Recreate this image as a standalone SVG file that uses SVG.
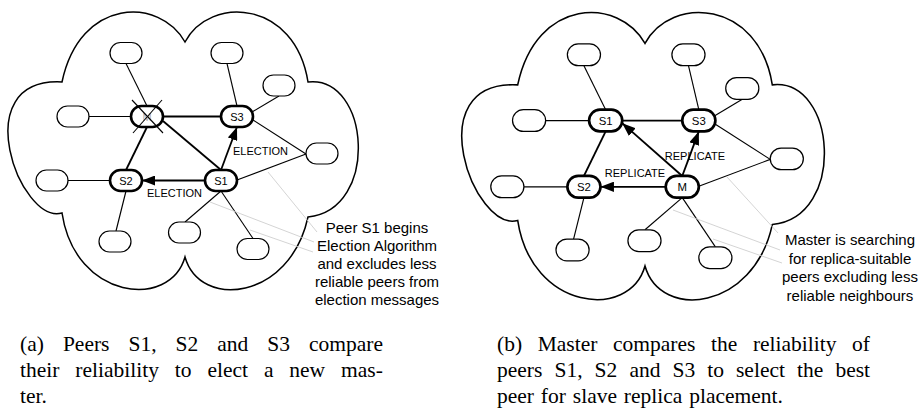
<svg xmlns="http://www.w3.org/2000/svg" width="920" height="414" viewBox="0 0 920 414">
<defs>
<style>
.cloud{fill:none;stroke:#000;stroke-width:1.5}
.nd{fill:#fff;stroke:#000;stroke-width:1.2}
.nd.k{stroke-width:2.6}
.e{stroke:#000;stroke-width:1.1;fill:none}
.m{stroke:#000;stroke-width:1.8;fill:none}
.ar{stroke:#000;stroke-width:1.8;fill:none;marker-end:url(#ah)}
.lead{stroke:#cfcfcf;stroke-width:0.9;fill:none}
.t{font-family:"Liberation Sans",Arial,sans-serif;font-size:11px;text-anchor:middle;fill:#000}
.ann{font-family:"Liberation Sans",Arial,sans-serif;font-size:15px;text-anchor:middle;fill:#000}
.cap{font-family:"Liberation Serif","Times New Roman",serif;font-size:21.5px;fill:#000}
</style>
<marker id="ah" markerWidth="13" markerHeight="10" refX="13" refY="5" orient="auto" markerUnits="userSpaceOnUse"><path d="M0,0 L13,5 L0,10 Z" fill="#000"/></marker>
<path id="cloudshape" d="M185,42 C160,-3 80,-3 62,82 C-35,77 20,225 62,213 C75,300 170,310 185,257 C200,310 290,300 308,217 C380,210 370,75 308,82 C295,0 210,-5 185,42 Z"/>
</defs>
<rect width="920" height="414" fill="#fff"/>

<!-- Panel (a) -->
<g id="panel-a">
<use href="#cloudshape" class="cloud"/>
<g id="connectors-a">
<line class="e" x1="126" y1="63.5" x2="147" y2="106"/>
<line class="e" x1="89" y1="116.5" x2="131" y2="116.5"/>
<line class="e" x1="227" y1="63.5" x2="237" y2="106"/>
<line class="e" x1="279" y1="96" x2="252" y2="112"/>
<line class="e" x1="253" y1="120" x2="306" y2="154"/>
<line class="e" x1="237" y1="180" x2="306" y2="154"/>
<line class="e" x1="68" y1="180.5" x2="110" y2="180.5"/>
<line class="e" x1="126" y1="191" x2="116" y2="231"/>
<line class="e" x1="221" y1="191" x2="185" y2="222"/>
<line class="e" x1="221" y1="191" x2="253" y2="238.5"/>
<line class="m" x1="163" y1="116.5" x2="221" y2="116.5"/>
<line class="m" x1="163" y1="121" x2="221" y2="170"/>
<line class="m" x1="147" y1="127" x2="126" y2="170"/>
<line class="ar" x1="221" y1="170" x2="237" y2="127"/>
<line class="ar" x1="205" y1="180.5" x2="142" y2="180.5"/>
<text class="t" x="260.5" y="155">ELECTION</text>
<text class="t" x="174.5" y="197">ELECTION</text>
</g>
<g id="a-tl"><rect class="nd" x="110" y="42.5" width="32" height="21" rx="10.5"/></g>
<g id="a-tr"><rect class="nd" x="211" y="42.5" width="32" height="21" rx="10.5"/></g>
<g id="a-r"><rect class="nd" x="263" y="75" width="32" height="21" rx="10.5"/></g>
<g id="a-l"><rect class="nd" x="57" y="106" width="32" height="21" rx="10.5"/></g>
<g id="a-M"><rect class="nd k" x="131" y="106" width="32" height="21" rx="10.5"/><text class="t" x="147" y="120.5" style="fill:#aaa">M</text><line class="e" x1="132" y1="100" x2="163" y2="133"/><line class="e" x1="162" y1="100" x2="133" y2="133"/></g>
<g id="a-S3"><rect class="nd k" x="221" y="106" width="32" height="21" rx="10.5"/><text class="t" x="237" y="120.5">S3</text></g>
<g id="a-fr"><rect class="nd" x="306" y="143" width="32" height="21" rx="10.5"/></g>
<g id="a-S2"><rect class="nd k" x="110" y="170" width="32" height="21" rx="10.5"/><text class="t" x="126" y="184.5">S2</text></g>
<g id="a-S1"><rect class="nd k" x="205" y="170" width="32" height="21" rx="10.5"/><text class="t" x="221" y="184.5">S1</text></g>
<g id="a-fl"><rect class="nd" x="36" y="170" width="32" height="21" rx="10.5"/></g>
<g id="a-bl"><rect class="nd" x="99" y="231" width="32" height="21" rx="10.5"/></g>
<g id="a-bm"><rect class="nd" x="168.5" y="222" width="32" height="21" rx="10.5"/></g>
<g id="a-br"><rect class="nd" x="237" y="238.5" width="32" height="21" rx="10.5"/></g>
</g>
<g id="leaders-a">
<line class="lead" x1="268" y1="172" x2="317" y2="232"/>
<line class="lead" x1="210" y1="202" x2="314" y2="242"/>
<line class="lead" x1="250" y1="230" x2="313" y2="252"/>
</g>
<g id="note-a">
<text class="ann" x="377" y="233">Peer S1 begins</text>
<text class="ann" x="377" y="251">Election Algorithm</text>
<text class="ann" x="377" y="269">and excludes less</text>
<text class="ann" x="377" y="287">reliable peers from</text>
<text class="ann" x="377" y="305">election messages</text>
</g>

<!-- Panel (b) -->
<g id="panel-b" transform="translate(645,0) scale(1.035) translate(-185,0)">
<use href="#cloudshape" class="cloud"/>
<g id="connectors-b">
<line class="e" x1="126" y1="63.5" x2="147" y2="106"/>
<line class="e" x1="89" y1="116.5" x2="131" y2="116.5"/>
<line class="e" x1="227" y1="63.5" x2="237" y2="106"/>
<line class="e" x1="279" y1="96" x2="252" y2="112"/>
<line class="e" x1="253" y1="120" x2="306" y2="154"/>
<line class="e" x1="237" y1="180" x2="306" y2="154"/>
<line class="e" x1="68" y1="180.5" x2="110" y2="180.5"/>
<line class="e" x1="126" y1="191" x2="116" y2="231"/>
<line class="e" x1="221" y1="191" x2="185" y2="222"/>
<line class="e" x1="221" y1="191" x2="253" y2="238.5"/>
<line class="m" x1="163" y1="116.5" x2="221" y2="116.5"/>
<line class="m" x1="147" y1="127" x2="126" y2="170"/>
<line class="ar" x1="221" y1="170" x2="163" y2="119"/>
<line class="ar" x1="221" y1="170" x2="237" y2="127"/>
<line class="ar" x1="205" y1="180.5" x2="142" y2="180.5"/>
</g>
<g id="b-tl"><rect class="nd" x="110" y="42.5" width="32" height="21" rx="10.5"/></g>
<g id="b-tr"><rect class="nd" x="211" y="42.5" width="32" height="21" rx="10.5"/></g>
<g id="b-r"><rect class="nd" x="263" y="75" width="32" height="21" rx="10.5"/></g>
<g id="b-l"><rect class="nd" x="57" y="106" width="32" height="21" rx="10.5"/></g>
<g id="b-S1"><rect class="nd k" x="131" y="106" width="32" height="21" rx="10.5"/><text class="t" x="147" y="120.5">S1</text></g>
<g id="b-S3"><rect class="nd k" x="221" y="106" width="32" height="21" rx="10.5"/><text class="t" x="237" y="120.5">S3</text></g>
<g id="b-fr"><rect class="nd" x="306" y="143" width="32" height="21" rx="10.5"/></g>
<g id="b-S2"><rect class="nd k" x="110" y="170" width="32" height="21" rx="10.5"/><text class="t" x="126" y="184.5">S2</text></g>
<g id="b-M"><rect class="nd k" x="205" y="170" width="32" height="21" rx="10.5"/><text class="t" x="221" y="184.5">M</text></g>
<g id="b-fl"><rect class="nd" x="36" y="170" width="32" height="21" rx="10.5"/></g>
<g id="b-bl"><rect class="nd" x="99" y="231" width="32" height="21" rx="10.5"/></g>
<g id="b-bm"><rect class="nd" x="168.5" y="222" width="32" height="21" rx="10.5"/></g>
<g id="b-br"><rect class="nd" x="237" y="238.5" width="32" height="21" rx="10.5"/></g>
</g>
<g id="labels-b">
<text class="t" x="695" y="160">REPLICATE</text>
<text class="t" x="635" y="177">REPLICATE</text>
</g>
<g id="leaders-b">
<line class="lead" x1="727" y1="177" x2="778" y2="233"/>
<line class="lead" x1="673" y1="210" x2="780" y2="250"/>
<line class="lead" x1="713" y1="239" x2="782" y2="263"/>
</g>
<g id="note-b">
<text class="ann" x="850" y="245">Master is searching</text>
<text class="ann" x="850" y="263.5">for replica-suitable</text>
<text class="ann" x="850" y="282">peers excluding less</text>
<text class="ann" x="850" y="300.5">reliable neighbours</text>
</g>

<!-- Captions -->
<g id="caption-a" class="cap">
<text y="350.5"><tspan x="20">(a)</tspan><tspan x="62.9">Peers</tspan><tspan x="128.5">S1,</tspan><tspan x="175.6">S2</tspan><tspan x="217.3">and</tspan><tspan x="267.3">S3</tspan><tspan x="309">compare</tspan></text>
<text y="377"><tspan x="20">their</tspan><tspan x="75.3">reliability</tspan><tspan x="174.8">to</tspan><tspan x="207.4">elect</tspan><tspan x="263.9">a</tspan><tspan x="289.3">new</tspan><tspan x="341">mas-</tspan></text>
<text y="403"><tspan x="20">ter.</tspan></text>
</g>
<g id="caption-b" class="cap">
<text y="350.5"><tspan x="497">(b)</tspan><tspan x="537.7">Master</tspan><tspan x="613">compares</tspan><tspan x="711">the</tspan><tspan x="752.9">reliability</tspan><tspan x="852.1">of</tspan></text>
<text y="377"><tspan x="497">peers</tspan><tspan x="554.5">S1,</tspan><tspan x="594.6">S2</tspan><tspan x="629.4">and</tspan><tspan x="672.5">S3</tspan><tspan x="707.2">to</tspan><tspan x="736">select</tspan><tspan x="797">the</tspan><tspan x="835.4">best</tspan></text>
<text y="403" x="497" style="word-spacing:1.5px">peer for slave replica placement.</text>
</g>
</svg>
